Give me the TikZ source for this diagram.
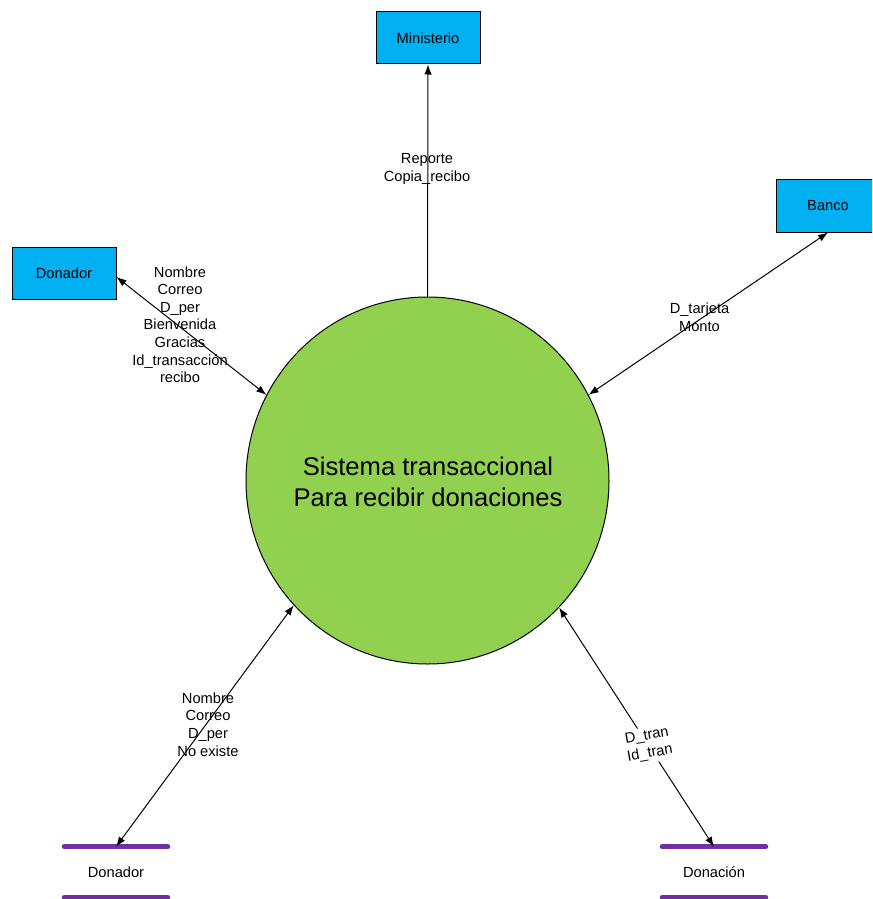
\documentclass[tikz,border=0pt]{standalone}
\usepackage{fontspec}
\setmainfont{Liberation Sans}
\usetikzlibrary{shapes.geometric,arrows.meta}
\definecolor{boxblue}{HTML}{00B0F0}
\definecolor{procgreen}{HTML}{92D050}
\definecolor{storepurple}{HTML}{7030A0}
\tikzset{
  entity/.style={draw=black, line width=0.75pt, fill=boxblue, minimum width=78pt, minimum height=39pt, inner sep=0pt, font=\fontsize{11}{13.2}\selectfont},
  process/.style={ellipse, draw=black, line width=0.75pt, fill=procgreen, minimum width=272.25pt, minimum height=275.25pt, inner sep=0pt},
  datastore/.style={minimum width=77.25pt, minimum height=37.5pt, inner sep=0pt, font=\fontsize{11}{13.2}\selectfont},
  storeline/.style={draw=storepurple, line width=3.75pt, line cap=round},
  flowlabel/.style={align=center, inner sep=0pt, font=\fontsize{11}{13.2}\selectfont},
  flow/.style={line width=0.75pt, {Latex[length=7.5pt,width=5.5pt]}-{Latex[length=7.5pt,width=5.5pt]}},
  flowone/.style={line width=0.75pt, -{Latex[length=7.5pt,width=5.5pt]}}
}
\begin{document}
\begin{tikzpicture}[x=0.75pt,y=-0.75pt]
\useasboundingbox (0,0) rectangle (872,899);
\clip (0,0) rectangle (872,899);
\fill[white] (0,0) rectangle (872,899);

\node[process] (sys) at (427.5,480.5) {};
\node[align=center, inner sep=0pt, font=\fontsize{19.2}{23.25}\selectfont] (systext) at (428,482) {Sistema transaccional\\Para recibir donaciones};

\node[entity] (min) at (428,38) {Ministerio};
\node[entity] (don) at (64,273) {Donador};
\node[entity, minimum height=39.75pt] (banco) at (828,205.5) {Banco};

\node[datastore] (ds) at (116,872) {Donador};
\node[datastore] (dn) at (714,872) {Donación};
\draw[storeline] (ds.north west) -- (ds.north east);
\draw[storeline] (ds.south west) -- (ds.south east);
\draw[storeline] (dn.north west) -- (dn.north east);
\draw[storeline] (dn.south west) -- (dn.south east);

\draw[flowone] (sys.north) -- (min.south);
\draw[flow] (sys.152.8) -- ([yshift=-3pt]don.east);
\draw[flow] (sys.28.3) -- (banco.south);
\draw[flow] (sys.223) -- (ds.north);
\draw[flow] (sys.316.8) -- (dn.north);

\node[flowlabel] (l1) at (427,169) {Reporte\\Copia\_recibo};
\node[flowlabel] (l2) at (180,324.6) {Nombre\\Correo\\D\_per\\Bienvenida\\Gracias\\Id\_transacción\\recibo};
\node[flowlabel] (l3) at (699.5,317) {D\_tarjeta\\Monto};
\node[flowlabel] (l4) at (208,724.5) {Nombre\\Correo\\D\_per\\No existe};
\node[flowlabel, fill=white, inner sep=2pt, rotate=10] (l5) at (648.5,745) {D\_tran\\Id\_tran};
\end{tikzpicture}
\end{document}
